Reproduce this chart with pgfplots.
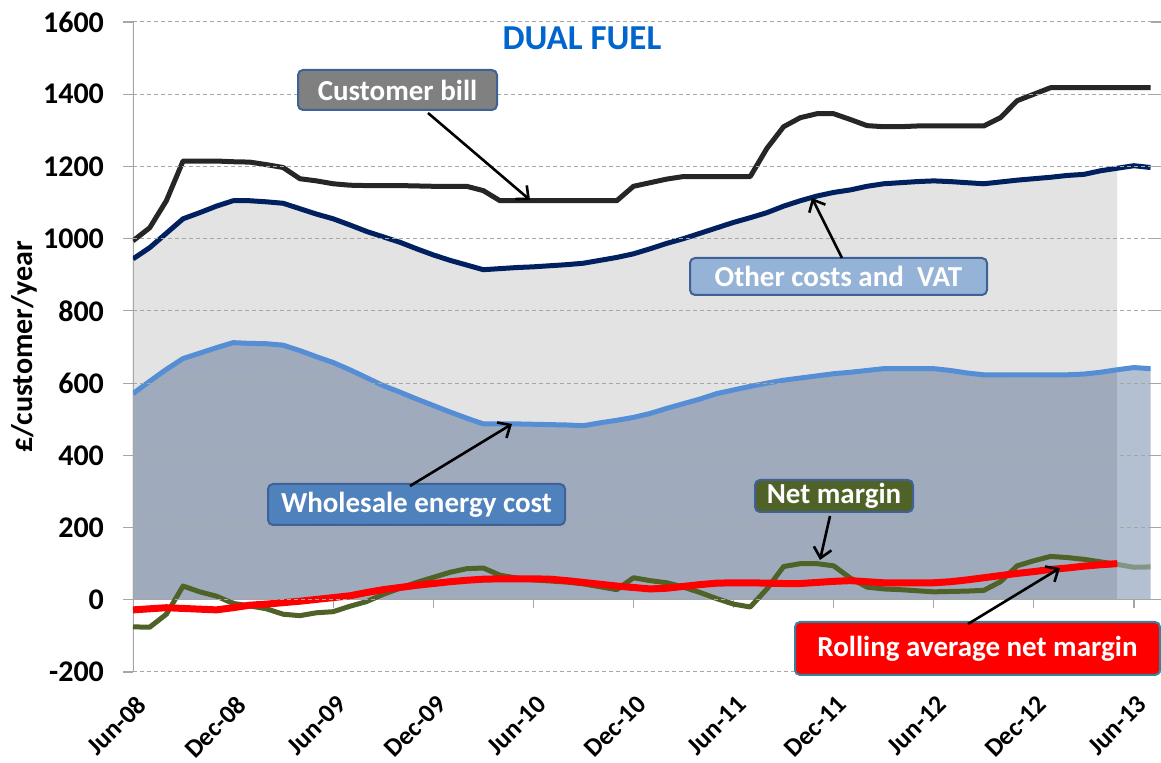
\documentclass[border=0pt]{standalone}
\usepackage{pgfplots}
\pgfplotsset{compat=1.18}
\usepackage{pgfplotstable}
\usepackage{fontspec}
\setmainfont{Carlito}
\usetikzlibrary{arrows.meta}

\definecolor{areagray}{HTML}{E3E3E3}
\definecolor{areablue}{HTML}{9FAABD}
\definecolor{areablue2}{HTML}{B3C0D2}
\definecolor{whcol}{HTML}{558ED5}
\definecolor{navycol}{HTML}{002060}
\definecolor{billc}{HTML}{262626}
\definecolor{olivecol}{HTML}{4F6228}
\definecolor{boxedge}{HTML}{3F6296}
\definecolor{billfill}{HTML}{808080}
\definecolor{otherfill}{HTML}{95B3D7}
\definecolor{wholefill}{HTML}{4F81BD}
\definecolor{rolledge}{HTML}{31859C}
\definecolor{dualcol}{HTML}{0066CC}

\pgfplotstableread{
m bill other whole net roll
0 994 944 571 -75 -28
1 1030 975 605 -76 -25
2 1105 1015 638 -40 -22
3 1215 1055 668 38 -24
4 1215 1072 683 22 -26
5 1215 1090 698 10 -28
6 1213 1105 712 -10 -22
7 1212 1105 710 -17 -15
8 1205 1102 709 -25 -12
9 1197 1098 705 -40 -8
10 1166 1083 690 -44 -4
11 1160 1068 673 -36 1
12 1152 1055 657 -33 6
13 1148 1038 637 -18 11
14 1147 1020 615 -5 20
15 1147 1005 593 15 28
16 1147 990 575 32 34
17 1146 972 556 48 40
18 1145 955 538 62 45
19 1145 940 520 76 50
20 1145 927 503 86 54
21 1133 914 487 88 57
22 1105 917 487 68 58
23 1105 920 487 60 58
24 1105 922 486 55 58
25 1105 925 485 52 57
26 1105 928 484 49 53
27 1105 932 482 44 48
28 1105 940 490 36 43
29 1105 948 497 28 38
30 1145 958 505 61 34
31 1155 972 516 53 30
32 1165 987 530 47 32
33 1172 1000 543 35 37
34 1172 1015 556 20 42
35 1172 1030 571 3 46
36 1172 1045 581 -12 47
37 1172 1058 591 -20 47
38 1250 1072 600 30 46
39 1310 1090 608 92 45
40 1335 1105 614 100 45
41 1346 1118 620 100 48
42 1346 1128 626 94 51
43 1330 1135 630 60 53
44 1313 1145 635 35 50
45 1310 1152 640 30 47
46 1310 1155 640 28 47
47 1312 1158 640 25 47
48 1312 1160 640 22 47
49 1312 1158 635 23 50
50 1312 1155 628 24 55
51 1312 1152 623 26 61
52 1335 1157 623 50 67
53 1382 1162 623 94 73
54 1400 1166 623 108 78
55 1418 1170 623 120 84
56 1418 1175 623 117 88
57 1418 1178 625 112 93
58 1418 1188 630 105 97
59 1418 1195 637 98 100
60 1418 1202 643 90 nan
61 1418 1197 640 91 nan
}\data

\begin{document}
\begin{tikzpicture}
\begin{axis}[
  scale only axis, width=508.8pt, height=325pt,
  at={(0,0)}, anchor=south west,
  xmin=0, xmax=61, ymin=-200, ymax=1600,
  axis line style={draw=none},
  axis on top,
  ytick={-200,0,200,...,1600},
  xtick={0,6,...,60},
  xticklabels={Jun-08,Dec-08,Jun-09,Dec-09,Jun-10,Dec-10,Jun-11,Dec-11,Jun-12,Dec-12,Jun-13},
  x tick style={draw=none},
  y tick style={draw=gray!70, line width=0.6pt},
  tick align=outside, major tick length=5pt,
  ymajorgrids, grid style={gray!70, line width=0.5pt, dash pattern=on 2pt off 1.5pt},
  /pgf/number format/assume math mode=true,
  /pgf/number format/1000 sep={},
  yticklabel style={font=\fontsize{15}{16}\selectfont\bfseries, xshift=-6pt},
  xticklabel style={font=\fontsize{13}{14}\selectfont\bfseries, rotate=45, anchor=north east, yshift=-1.5pt},
  ylabel={£/customer/year},
  every axis y label/.style={at={([xshift=-54.5pt]axis description cs:0,0.5)}, rotate=90, anchor=center, font=\fontsize{15}{16}\selectfont\bfseries},
  every axis plot/.append style={mark=none, line join=round},
]
\addplot[draw=none, fill=areagray, restrict x to domain=0:59] table[x=m,y=other]{\data} \closedcycle;
\addplot[draw=none, fill=areablue, restrict x to domain=0:59] table[x=m,y=whole]{\data} \closedcycle;
\addplot[draw=none, fill=areablue2, restrict x to domain=59:61] table[x=m,y=whole]{\data} \closedcycle;

\draw[gray!70, line width=0.6pt] (axis cs:0,-200) -- (axis cs:0,1600);
\draw[gray!70, line width=0.6pt] (axis cs:0,0) -- (axis cs:61,0);
\pgfplotsinvokeforeach{6,12,...,60}{\draw[gray!70, line width=0.6pt] (axis cs:#1,0) -- ([yshift=-4pt]axis cs:#1,0);}

\addplot[line width=2.5pt, color=whcol] table[x=m,y=whole]{\data};
\addplot[line width=2.5pt, color=navycol] table[x=m,y=other]{\data};
\addplot[line width=2.5pt, color=billc] table[x=m,y=bill]{\data};
\addplot[line width=2.5pt, color=olivecol, restrict x to domain=0:59] table[x=m,y=net]{\data};
\addplot[line width=2.5pt, color=olivecol, opacity=0.45, restrict x to domain=59:61] table[x=m,y=net]{\data};
\addplot[line width=3.5pt, color=red, restrict x to domain=0:59] table[x=m,y=roll]{\data};
\end{axis}

\tikzset{lab/.style={rounded corners=2.5pt, line width=1pt, draw=boxedge, text=white,
  font=\fontsize{14.5}{15}\selectfont\bfseries, inner sep=0pt},
  arr/.style={line width=1.3pt, -{Straight Barb[length=5pt,width=9pt]}}}

\node[font=\fontsize{17.5}{18}\selectfont\bfseries, text=dualcol] at (224.5pt,317pt) {DUAL FUEL};

\node[lab, fill=billfill, minimum width=99.5pt, minimum height=20pt] at (132.25pt,291pt) {Customer bill};
\draw[arr] (147.5pt,279.5pt) -- (198.5pt,236pt);

\node[lab, fill=otherfill, minimum width=148.5pt, minimum height=18.5pt] at (352.75pt,197.75pt) {Other costs and\ \ VAT};
\draw[arr] (354.5pt,207pt) -- (339.5pt,237pt);

\node[lab, fill=wholefill, minimum width=148.5pt, minimum height=20.5pt] at (141.75pt,83.75pt) {Wholesale energy cost};
\draw[arr] (138.5pt,93pt) -- (189.5pt,124pt);

\node[lab, fill=olivecol, minimum width=79pt, minimum height=16pt] at (350.5pt,88pt) {Net margin};
\draw[arr] (348.5pt,78pt) -- (343.5pt,56pt);

\node[lab, fill=red, draw=rolledge, minimum width=182.5pt, minimum height=26.5pt] at (422.25pt,11.75pt) {Rolling average net margin};
\draw[arr] (417.5pt,24pt) -- (463.5pt,52pt);

\pgfresetboundingbox
\useasboundingbox (-66.5pt,-45.5pt) rectangle (514pt,336pt);
\end{tikzpicture}
\end{document}
